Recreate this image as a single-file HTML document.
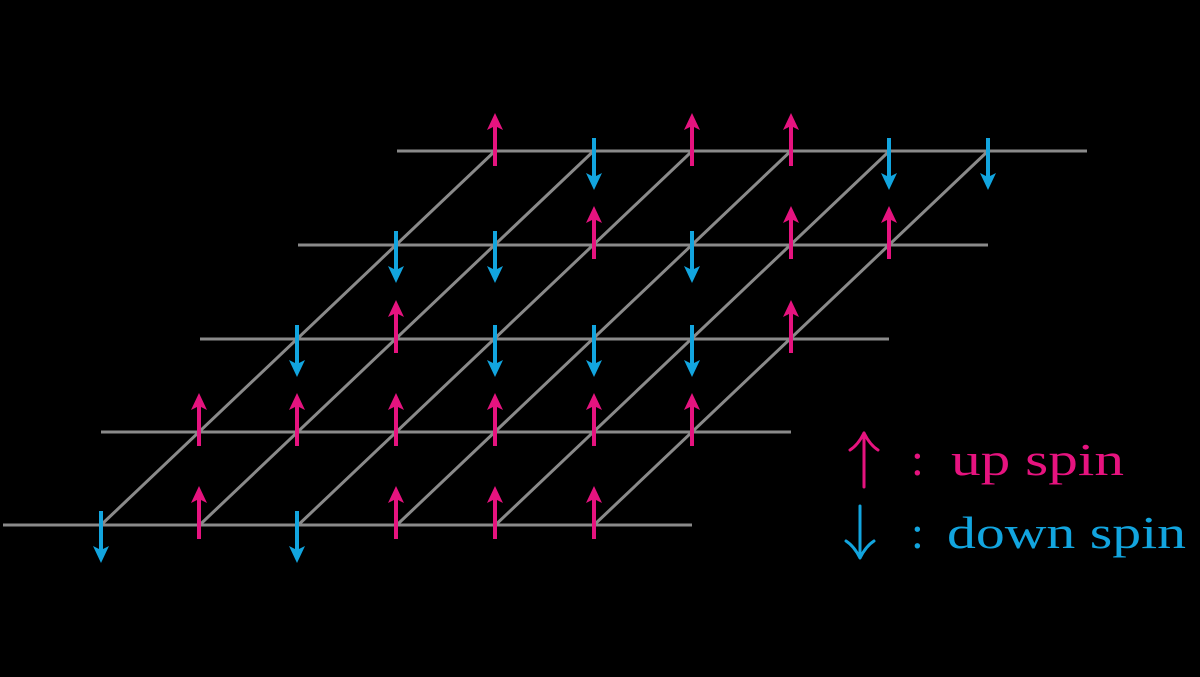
<!DOCTYPE html>
<html><head><meta charset="utf-8"><style>
html,body{margin:0;padding:0;background:#000;width:1200px;height:677px;overflow:hidden}
</style></head><body>
<svg width="1200" height="677" viewBox="0 0 1200 677" xmlns="http://www.w3.org/2000/svg">
<rect width="1200" height="677" fill="#000"/>
<g stroke="#8a8a8a" stroke-width="3">
<line x1="397" y1="151" x2="1087" y2="151"/>
<line x1="298" y1="245" x2="988" y2="245"/>
<line x1="200" y1="339" x2="889" y2="339"/>
<line x1="101" y1="432" x2="791" y2="432"/>
<line x1="3" y1="525" x2="692" y2="525"/>
<line x1="101" y1="525" x2="495" y2="151"/>
<line x1="199.6" y1="525" x2="593.6" y2="151"/>
<line x1="298.2" y1="525" x2="692.2" y2="151"/>
<line x1="396.8" y1="525" x2="790.8" y2="151"/>
<line x1="495.4" y1="525" x2="889.4" y2="151"/>
<line x1="594" y1="525" x2="988" y2="151"/>
</g>
<defs>
<g id="up"><line x1="0" y1="14" x2="0" y2="-26" stroke="#e6137f" stroke-width="4"/><path d="M0,-39 L-8,-22 L0,-26 L8,-22 Z" fill="#e6137f"/></g>
<g id="dn"><line x1="0" y1="-14" x2="0" y2="26" stroke="#12a5df" stroke-width="4"/><path d="M0,38 L-8,21 L0,25 L8,21 Z" fill="#12a5df"/></g>
</defs>
<use href="#up" x="495" y="152"/><use href="#dn" x="594" y="152"/><use href="#up" x="692" y="152"/><use href="#up" x="791" y="152"/><use href="#dn" x="889" y="152"/><use href="#dn" x="988" y="152"/>
<use href="#dn" x="396" y="245"/><use href="#dn" x="495" y="245"/><use href="#up" x="594" y="245"/><use href="#dn" x="692" y="245"/><use href="#up" x="791" y="245"/><use href="#up" x="889" y="245"/>
<use href="#dn" x="297" y="339"/><use href="#up" x="396" y="339"/><use href="#dn" x="495" y="339"/><use href="#dn" x="594" y="339"/><use href="#dn" x="692" y="339"/><use href="#up" x="791" y="339"/>
<use href="#up" x="199" y="432"/><use href="#up" x="297" y="432"/><use href="#up" x="396" y="432"/><use href="#up" x="495" y="432"/><use href="#up" x="594" y="432"/><use href="#up" x="692" y="432"/>
<use href="#dn" x="101" y="525"/><use href="#up" x="199" y="525"/><use href="#dn" x="297" y="525"/><use href="#up" x="396" y="525"/><use href="#up" x="495" y="525"/><use href="#up" x="594" y="525"/>
<!-- legend arrows -->
<g fill="none" stroke-width="3" stroke-linecap="round">
<path d="M864,487 L864,435 M864,433 Q858,445 850,450 M864,433 Q870,445 878,450" stroke="#e6137f"/>
<path d="M860,506 L860,556 M860,558 Q854,546 846,541 M860,558 Q866,546 874,541" stroke="#12a5df"/>
</g>
<g font-family="Liberation Serif, serif" font-size="46">
<text x="911" y="475" fill="#e6137f">:</text>
<text x="951" y="475" fill="#e6137f" textLength="173" lengthAdjust="spacingAndGlyphs">up spin</text>
<text x="911" y="548" fill="#12a5df">:</text>
<text x="947" y="548" fill="#12a5df" textLength="239" lengthAdjust="spacingAndGlyphs">down spin</text>
</g>
</svg>
</body></html>
